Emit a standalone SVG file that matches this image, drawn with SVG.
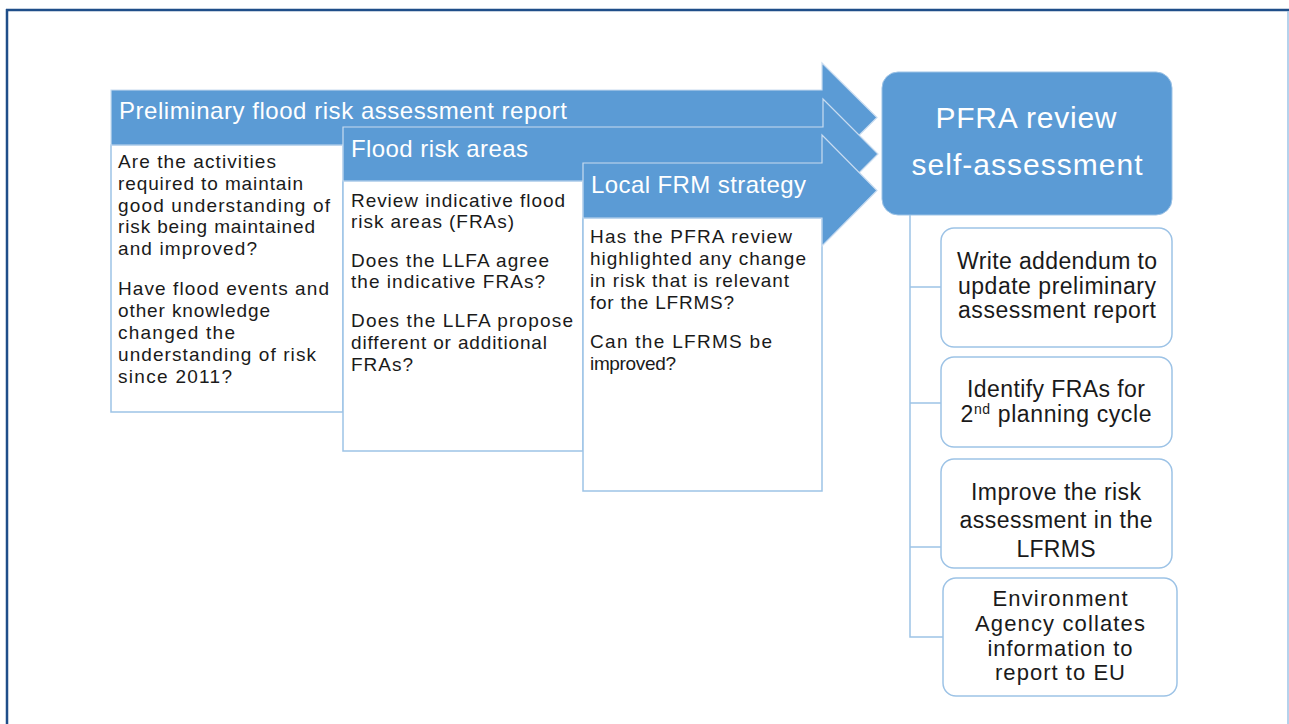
<svg xmlns="http://www.w3.org/2000/svg" width="1289" height="724" viewBox="0 0 1289 724">
<style>
.frame{stroke:#1f4e89;stroke-width:2.5;fill:none}
.arrow{fill:#5b9bd5;stroke:#c9dcf0;stroke-width:1.2}
.box{fill:#ffffff;stroke:#9dc3e6;stroke-width:1.5}
.big{fill:#5b9bd5;stroke:#9dc3e6;stroke-width:1}
.child{fill:#ffffff;stroke:#9dc3e6;stroke-width:1.5}
.conn{stroke:#9dc3e6;stroke-width:1.5;fill:none}
.hd{font-family:'Liberation Sans',Arial,sans-serif;font-size:24px;fill:#ffffff}
.body{font-family:'Liberation Sans',Arial,sans-serif;font-size:19px;fill:#1a1a1a}
.ch{font-family:'Liberation Sans',Arial,sans-serif;font-size:23px;fill:#1a1a1a;text-anchor:middle}
.ch4{font-size:22px}
.pf{font-family:'Liberation Sans',Arial,sans-serif;font-size:30px;fill:#ffffff;text-anchor:middle}
</style>
<rect width="1289" height="724" fill="#ffffff"/>
<g id="frame">
<line class="frame" x1="6" y1="10" x2="1289" y2="10"/>
<line class="frame" x1="7" y1="9" x2="7" y2="724"/>
<line x1="1288" y1="11" x2="1288" y2="724" stroke="#9dc3e6" stroke-width="1.5"/>
</g>
<g id="box1">
<rect class="box" x="111" y="145" width="232" height="267"/>
<text class="body" x="118" y="168" textLength="158" lengthAdjust="spacing">Are the activities</text>
<text class="body" x="118" y="190" textLength="185" lengthAdjust="spacing">required to maintain</text>
<text class="body" x="118" y="212" textLength="212" lengthAdjust="spacing">good understanding  of</text>
<text class="body" x="118" y="233" textLength="197" lengthAdjust="spacing">risk being maintained</text>
<text class="body" x="118" y="255" textLength="139" lengthAdjust="spacing">and improved?</text>
<text class="body" x="118" y="295" textLength="211" lengthAdjust="spacing">Have flood events and</text>
<text class="body" x="118" y="317" textLength="152" lengthAdjust="spacing">other knowledge</text>
<text class="body" x="118" y="339" textLength="117" lengthAdjust="spacing">changed the</text>
<text class="body" x="118" y="361" textLength="198" lengthAdjust="spacing">understanding  of risk</text>
<text class="body" x="118" y="383" textLength="114" lengthAdjust="spacing">since 2011?</text>
</g>
<g id="arrow1">
<polygon class="arrow" points="111,90 822,90 822,63 877,117.5 822,172 822,145 111,145"/>
<text class="hd" x="119" y="119" textLength="448" lengthAdjust="spacing">Preliminary flood risk assessment report</text>
</g>
<g id="box2">
<rect class="box" x="343" y="181" width="240" height="270"/>
<text class="body" x="351" y="207" textLength="214" lengthAdjust="spacing">Review indicative flood</text>
<text class="body" x="351" y="228" textLength="163" lengthAdjust="spacing">risk areas (FRAs)</text>
<text class="body" x="351" y="267" textLength="198" lengthAdjust="spacing">Does the LLFA agree</text>
<text class="body" x="351" y="288" textLength="194" lengthAdjust="spacing">the indicative FRAs?</text>
<text class="body" x="351" y="327" textLength="222" lengthAdjust="spacing">Does the LLFA propose</text>
<text class="body" x="351" y="349" textLength="196" lengthAdjust="spacing">different or additional</text>
<text class="body" x="351" y="371" textLength="62" lengthAdjust="spacing">FRAs?</text>
</g>
<g id="arrow2">
<polygon class="arrow" points="343,127 823,127 823,99 878,154 823,209 823,181 343,181"/>
<text class="hd" x="351" y="157" textLength="177" lengthAdjust="spacing">Flood risk areas</text>
</g>
<g id="box3">
<rect class="box" x="583" y="218" width="239" height="273"/>
<text class="body" x="590" y="243" textLength="202" lengthAdjust="spacing">Has the PFRA review</text>
<text class="body" x="590" y="265" textLength="216" lengthAdjust="spacing">highlighted  any change</text>
<text class="body" x="590" y="287" textLength="199" lengthAdjust="spacing">in risk that is relevant</text>
<text class="body" x="590" y="309" textLength="144" lengthAdjust="spacing">for the LFRMS?</text>
<text class="body" x="590" y="348" textLength="182" lengthAdjust="spacing">Can the LFRMS be</text>
<text class="body" x="590" y="370" textLength="86" lengthAdjust="spacing">improved?</text>
</g>
<g id="arrow3">
<polygon class="arrow" points="583,163 822,163 822,135 877,190.5 822,246 822,218 583,218"/>
<text class="hd" x="591" y="193" textLength="215" lengthAdjust="spacing">Local FRM strategy</text>
</g>
<g id="connectors">
<polyline class="conn" points="910,215 910,637 943,637"/>
<line class="conn" x1="910" y1="287" x2="941" y2="287"/>
<line class="conn" x1="910" y1="403" x2="941" y2="403"/>
<line class="conn" x1="910" y1="547" x2="941" y2="547"/>
</g>
<g id="pfra">
<rect class="big" x="882" y="72" width="290" height="143" rx="16"/>
<text class="pf" x="1026" y="128" textLength="181" lengthAdjust="spacing">PFRA review</text>
<text class="pf" x="1027" y="175" textLength="231" lengthAdjust="spacing">self-assessment</text>
</g>
<g id="child1">
<rect class="child" x="941" y="228" width="231" height="119" rx="13"/>
<text class="ch" x="1057" y="269" textLength="200" lengthAdjust="spacing">Write addendum to</text>
<text class="ch" x="1057" y="294" textLength="198" lengthAdjust="spacing">update preliminary</text>
<text class="ch" x="1057" y="318" textLength="198" lengthAdjust="spacing">assessment report</text>
</g>
<g id="child2">
<rect class="child" x="941" y="357" width="231" height="90" rx="13"/>
<text class="ch" x="1056" y="397" textLength="178" lengthAdjust="spacing">Identify FRAs for</text>
<text class="ch" x="1056" y="422" textLength="191" lengthAdjust="spacing">2<tspan font-size="14" dy="-8">nd</tspan><tspan dy="8"> planning cycle</tspan></text>
</g>
<g id="child3">
<rect class="child" x="941" y="459" width="231" height="109" rx="13"/>
<text class="ch" x="1056" y="500" textLength="170" lengthAdjust="spacing">Improve the risk</text>
<text class="ch" x="1056" y="528" textLength="193" lengthAdjust="spacing">assessment in the</text>
<text class="ch" x="1056" y="557" textLength="79" lengthAdjust="spacing">LFRMS</text>
</g>
<g id="child4">
<rect class="child" x="943" y="578" width="234" height="118" rx="13"/>
<text class="ch ch4" x="1060" y="606" textLength="135" lengthAdjust="spacing">Environment</text>
<text class="ch ch4" x="1060" y="631" textLength="170" lengthAdjust="spacing">Agency collates</text>
<text class="ch ch4" x="1060" y="655.5" textLength="145" lengthAdjust="spacing">information to</text>
<text class="ch ch4" x="1060" y="680" textLength="130" lengthAdjust="spacing">report to EU</text>
</g>
</svg>
